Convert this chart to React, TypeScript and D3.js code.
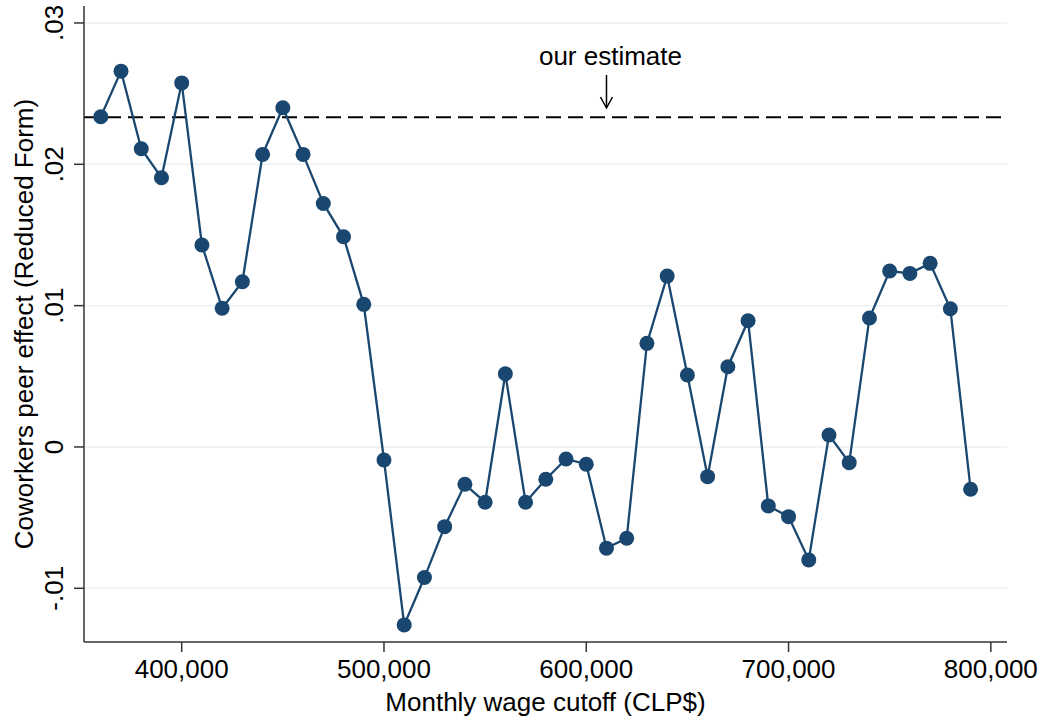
import React from "react";
import { scaleLinear, line, range } from "d3";

const width = 1043;
const height = 719;
const plotLeft = 84;
const plotRight = 1007;
const plotTop = 6;
const plotBottom = 642;
const navy = "#1a476f";
const font = "'Liberation Sans', Arial, Helvetica, sans-serif";

// monthly wage cutoffs (CLP$), 360,000 .. 790,000 by 10,000
const cutoffs = range(360000, 800000, 10000);
const effects = [
  0.02336, 0.02659, 0.0211, 0.01905, 0.02576, 0.01429, 0.00981, 0.01169,
  0.0207, 0.024, 0.0207, 0.01723, 0.01487, 0.01009, -0.00092, -0.01259,
  -0.00924, -0.00564, -0.00264, -0.00391, 0.00518, -0.00391, -0.00228,
  -0.00085, -0.00122, -0.00716, -0.00646, 0.00733, 0.01209, 0.00509,
  -0.0021, 0.00568, 0.00893, -0.00417, -0.00493, -0.00799, 0.00085,
  -0.00111, 0.00912, 0.01245, 0.01228, 0.01299, 0.00978, -0.00299,
];
const ourEstimate = 0.02332;
const estimateLabelAt = 610000;

const yTicks = [-0.01, 0, 0.01, 0.02, 0.03];
const yTickLabels = ["-.01", "0", ".01", ".02", ".03"];
const xTicks = [400000, 500000, 600000, 700000, 800000];
const xTickLabels = ["400,000", "500,000", "600,000", "700,000", "800,000"];

const xScale = scaleLinear().domain([351700, 808000]).range([plotLeft, plotRight]);
const yScale = scaleLinear().domain([-0.0138, 0.0312]).range([plotBottom, plotTop]);

const points = cutoffs.map((c, i) => ({ x: c, y: effects[i] }));

const pathGen = line<{ x: number; y: number }>()
  .x((d) => xScale(d.x))
  .y((d) => yScale(d.y));

const App = () => {
  const estY = yScale(ourEstimate);
  const arrowX = xScale(estimateLabelAt);
  return (
    <svg
      width={width}
      height={height}
      style={{ position: "absolute", left: 0, top: 0, background: "#fff" }}
      fontFamily={font}
    >
      <rect width={width} height={height} fill="#fff" />
      {/* grid */}
      {yTicks.map((t) => (
        <line
          key={t}
          x1={plotLeft}
          x2={plotRight}
          y1={yScale(t)}
          y2={yScale(t)}
          stroke="#eaf2f3"
          strokeWidth={1.5}
        />
      ))}
      {/* reference estimate */}
      <line
        x1={plotLeft}
        x2={plotRight}
        y1={estY}
        y2={estY}
        stroke="#000"
        strokeWidth={2}
        strokeDasharray="15,7"
      />
      <text x={arrowX + 4} y={65} textAnchor="middle" fontSize={26} fill="#000">
        our estimate
      </text>
      <line x1={arrowX} x2={arrowX} y1={75} y2={108} stroke="#000" strokeWidth={1.5} />
      <path
        d={`M${arrowX - 6},${97} L${arrowX},${108} L${arrowX + 6},${97}`}
        fill="none"
        stroke="#000"
        strokeWidth={1.5}
      />
      {/* series */}
      <path d={pathGen(points) || ""} fill="none" stroke={navy} strokeWidth={2.3} />
      {points.map((d) => (
        <circle key={d.x} cx={xScale(d.x)} cy={yScale(d.y)} r={7.5} fill={navy} />
      ))}
      {/* axes */}
      <line x1={plotLeft} x2={plotLeft} y1={plotTop} y2={plotBottom} stroke="#333" strokeWidth={1.5} />
      <line x1={plotLeft} x2={plotRight} y1={plotBottom} y2={plotBottom} stroke="#333" strokeWidth={1.5} />
      {yTicks.map((t, i) => (
        <g key={t}>
          <line x1={plotLeft - 10} x2={plotLeft} y1={yScale(t)} y2={yScale(t)} stroke="#333" strokeWidth={1.5} />
          <text
            transform={`translate(62.5, ${yScale(t)}) rotate(-90)`}
            textAnchor="middle"
            fontSize={26}
            fill="#000"
          >
            {yTickLabels[i]}
          </text>
        </g>
      ))}
      {xTicks.map((t, i) => (
        <g key={t}>
          <line x1={xScale(t)} x2={xScale(t)} y1={plotBottom} y2={plotBottom + 10} stroke="#333" strokeWidth={1.5} />
          <text x={xScale(t)} y={678} textAnchor="middle" fontSize={26} fill="#000">
            {xTickLabels[i]}
          </text>
        </g>
      ))}
      <text
        transform={`translate(33, ${(plotTop + plotBottom) / 2}) rotate(-90)`}
        textAnchor="middle"
        fontSize={26}
        fill="#000"
      >
        Coworkers peer effect (Reduced Form)
      </text>
      <text x={(plotLeft + plotRight) / 2} y={711} textAnchor="middle" fontSize={26} fill="#000">
        Monthly wage cutoff (CLP$)
      </text>
    </svg>
  );
};

export default App;
